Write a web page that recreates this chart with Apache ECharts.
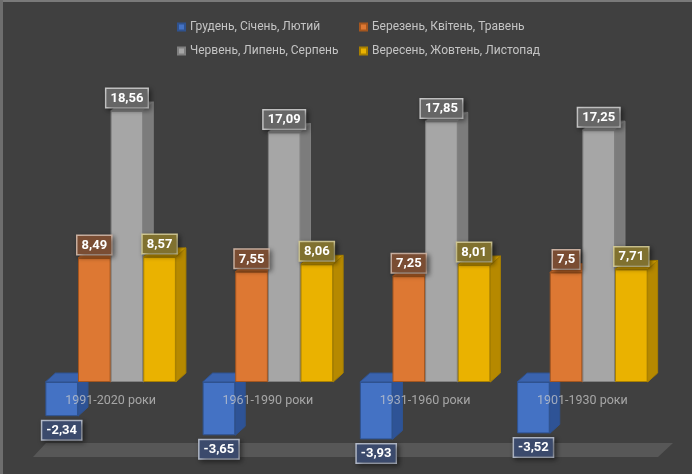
<!DOCTYPE html>
<html>
<head>
<meta charset="utf-8">
<script src="https://cdn.jsdelivr.net/npm/echarts@6/dist/echarts.min.js"></script>
<style>
html,body{margin:0;padding:0;background:#404040;}
#chart{width:692px;height:474px;}
</style>
</head>
<body>
<div id="chart"></div>
<script>
const categories = ['1991-2020 роки', '1961-1990 роки', '1931-1960 роки', '1901-1930 роки'];
const seriesNames = ['Грудень, Січень, Лютий', 'Березень, Квітень, Травень', 'Червень, Липень, Серпень', 'Вересень, Жовтень, Листопад'];
const winter = [-2.34, -3.65, -3.93, -3.52];
const spring = [8.49, 7.55, 7.25, 7.5];
const summer = [18.56, 17.09, 17.85, 17.25];
const autumn = [8.57, 8.06, 8.01, 7.71];

const values = [winter, spring, summer, autumn];
const front = ['#4472C4', '#DD7833', '#A6A6A6', '#EAB200'];
const side = ['#2E5396', '#AC5A22', '#7C7C7C', '#B68900'];
const topc = ['#3A63AE', '#C4692B', '#8E8E8E', '#CF9D00'];
const edge = ['#2F528F', '#A4561F', '#808080', '#A88000'];
const labelBg = ['#3B4A6C', '#7A4D33', '#666666', '#80712F'];
const labelBorder = ['#B5BCCB', '#CDB3A3', '#C9C9C9', '#D2C993'];

const CAT_GAP = 0.17;
const DX = 10, DY = 9;
const fmt = v => String(v).replace('.', ',');

const chart = echarts.init(document.getElementById('chart'), null, {renderer: 'canvas'});

const series = [];
// floor
series.push({
  type: 'custom',
  name: '_floor',
  z: 1,
  silent: true,
  data: [[0, 0]],
  renderItem: function (params, api) {
    const cs = params.coordSys;
    const yb = cs.y + cs.height + 2;
    return {
      type: 'polygon',
      shape: {points: [[cs.x + 1, yb], [cs.x + 14, yb - 14], [cs.x + cs.width + 12, yb - 14], [cs.x + cs.width - 3, yb]]},
      style: {fill: '#575757'}
    };
  }
});

values.forEach((arr, si) => {
  series.push({
    type: 'bar',
    name: seriesNames[si],
    z: 2,
    barGap: 0,
    barCategoryGap: (CAT_GAP * 100) + '%',
    itemStyle: {color: front[si], borderColor: edge[si], borderWidth: 1},
    label: {
      show: true,
      position: 'top',
      distance: 4,
      formatter: p => fmt(p.value),
      color: '#ffffff',
      fontFamily: 'Roboto',
      fontWeight: 'bold',
      fontSize: 13,
      backgroundColor: labelBg[si],
      borderColor: labelBorder[si],
      borderWidth: 1.5,
      padding: [3, 4, 2, 4],
      shadowColor: 'rgba(0,0,0,0.45)',
      shadowBlur: 5,
      shadowOffsetX: 2,
      shadowOffsetY: 2
    },
    data: arr.map(v => v < 0 ? {value: v, label: {position: 'bottom', distance: 5}} : v)
  });
  series.push({
    type: 'custom',
    name: '_3d' + si,
    z: 2,
    silent: true,
    data: arr.map((v, i) => [i, v]),
    renderItem: function (params, api) {
      const idx = api.value(0);
      const v = api.value(1);
      const c = api.coord([idx, 0]);
      const cv = api.coord([idx, v]);
      const band = api.size([1, 0])[0];
      const total = band * (1 - CAT_GAP);
      const bw = total / 4;
      const xl = c[0] - total / 2 + si * bw;
      const xr = xl + bw;
      const yt = Math.min(c[1], cv[1]);
      const yb = Math.max(c[1], cv[1]);
      return {
        type: 'group',
        children: [
          {type: 'polygon', shape: {points: [[xr, yt], [xr + DX, yt - DY], [xr + DX, yb - DY], [xr, yb]]},
           style: {fill: side[si], stroke: edge[si], lineWidth: 1}},
          {type: 'polygon', shape: {points: [[xl, yt], [xl + DX, yt - DY], [xr + DX, yt - DY], [xr, yt]]},
           style: {fill: topc[si], stroke: edge[si], lineWidth: 1}}
        ]
      };
    }
  });
});

const legendBase = {
  itemWidth: 7,
  itemHeight: 7,
  icon: 'rect',
  textStyle: {color: '#c4c4c4', fontFamily: 'Roboto', fontSize: 12}
};

chart.setOption({
  backgroundColor: '#404040',
  animation: false,
  graphic: [
    {type: 'rect', shape: {x: 0, y: 0, width: 692, height: 2}, style: {fill: '#7a7a7a'}, silent: true},
    {type: 'rect', shape: {x: 0, y: 0, width: 3, height: 474}, style: {fill: '#6e6e6e'}, silent: true}
  ],
  legend: [
    Object.assign({data: [seriesNames[0]], left: 172, top: 16}, legendBase),
    Object.assign({data: [seriesNames[1]], left: 354, top: 16}, legendBase),
    Object.assign({data: [seriesNames[2]], left: 172, top: 40}, legendBase),
    Object.assign({data: [seriesNames[3]], left: 354, top: 40}, legendBase)
  ],
  grid: {left: 32, right: 31, top: 90, bottom: 19},
  xAxis: {
    type: 'category',
    data: categories,
    z: 10,
    axisLine: {show: false, onZero: false},
    axisTick: {show: false},
    axisLabel: {
      margin: -61,
      color: 'rgba(205,205,205,0.72)',
      fontFamily: 'Roboto',
      fontSize: 12.5
    }
  },
  yAxis: {
    type: 'value',
    min: -5,
    max: 20,
    show: false,
    splitLine: {show: false}
  },
  series: series
});
</script>
</body>
</html>
